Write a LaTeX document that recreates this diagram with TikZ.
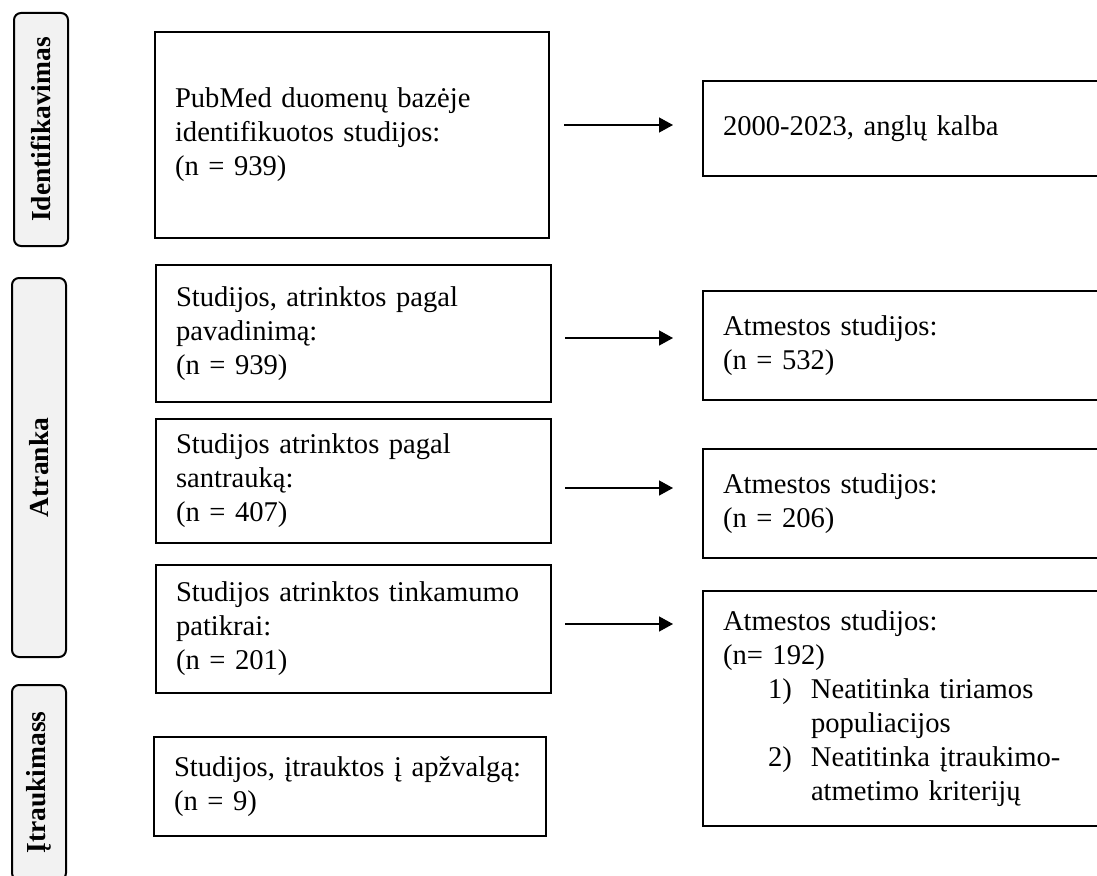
\documentclass[tikz,border=0pt]{standalone}
\usepackage{fontspec}
\setmainfont{Liberation Serif}
\usetikzlibrary{arrows.meta, positioning}
\frenchspacing
\definecolor{phaseGray}{HTML}{F2F2F2}
\tikzset{
  arrowK/.style={-{Triangle[length=14pt, width=15pt]}, black, line width=1.4pt},
  stepBox/.style={rectangle, draw=black, line width=2pt, anchor=north west,
                  align=left, inner xsep=20pt, inner ysep=0pt,
                  font=\fontsize{28.6}{34}\selectfont},
  phaseBox/.style={rectangle, rounded corners=7pt, draw=black, line width=2pt,
                   fill=phaseGray, rotate=90, inner sep=0pt,
                   font=\bfseries\fontsize{27.5}{30}\selectfont},
}

\begin{document}
\begin{tikzpicture}[x=1pt, y=-1pt]
    \useasboundingbox (0,0) rectangle (1097,875);
    \clip (0,0) rectangle (1097,875);
    % phases
    \node[phaseBox, minimum width=233pt, minimum height=54pt] (ph1) at (41,129.5) {Identifikavimas};
    \node[phaseBox, minimum width=379pt, minimum height=54pt] (ph2) at (39,467.5) {Atranka};
    \node[phaseBox, minimum width=195pt, minimum height=54pt] (ph3) at (39,782.5) {Įtraukimass};
    % main column
    \node[stepBox, text width=354pt, minimum height=206pt] (ident) at (154,31)
      {PubMed duomenų bazėje\\identifikuotos studijos:\\(n = 939)};
    \node[stepBox, text width=355pt, minimum height=137pt] (title) at (155,264)
      {Studijos, atrinktos pagal\\pavadinimą:\\(n = 939)};
    \node[stepBox, text width=355pt, minimum height=124pt] (abstr) at (155,418)
      {Studijos atrinktos pagal\\santrauką:\\(n = 407)};
    \node[stepBox, text width=355pt, minimum height=128pt] (elig) at (155,564)
      {Studijos atrinktos tinkamumo\\patikrai:\\(n = 201)};
    \node[stepBox, text width=352pt, minimum height=99pt] (incl) at (153,736)
      {Studijos, įtrauktos į apžvalgą:\\(n = 9)};
    % excluded column
    \node[stepBox, text width=388pt, minimum height=95pt] (ex1) at (702,80)
      {2000-2023, anglų kalba};
    \node[stepBox, text width=388pt, minimum height=109pt] (ex2) at (702,290)
      {Atmestos studijos:\\(n = 532)};
    \node[stepBox, text width=388pt, minimum height=109pt] (ex3) at (702,448)
      {Atmestos studijos:\\(n = 206)};
    \node[stepBox, text width=388pt, minimum height=235pt] (ex4) at (702,590)
      {Atmestos studijos:\\(n= 192)\\
       \hspace*{45pt}\makebox[43pt][l]{1)}Neatitinka tiriamos\\
       \hspace*{88pt}populiacijos\\
       \hspace*{45pt}\makebox[43pt][l]{2)}Neatitinka įtraukimo-\\
       \hspace*{88pt}atmetimo kriterijų};
    \draw[arrowK, shorten <=14pt, shorten >=29pt] ([yshift=10pt]ident.east) -- ([yshift=10pt]ident.east -| ex1.west);
    \draw[arrowK, shorten <=13pt, shorten >=29pt] ([yshift=-4.5pt]title.east) -- ([yshift=-4.5pt]title.east -| ex2.west);
    \draw[arrowK, shorten <=13pt, shorten >=29pt] ([yshift=-7pt]abstr.east) -- ([yshift=-7pt]abstr.east -| ex3.west);
    \draw[arrowK, shorten <=13pt, shorten >=29pt] ([yshift=5pt]elig.east) -- ([yshift=5pt]elig.east -| ex4.west);
\end{tikzpicture}
\end{document}
